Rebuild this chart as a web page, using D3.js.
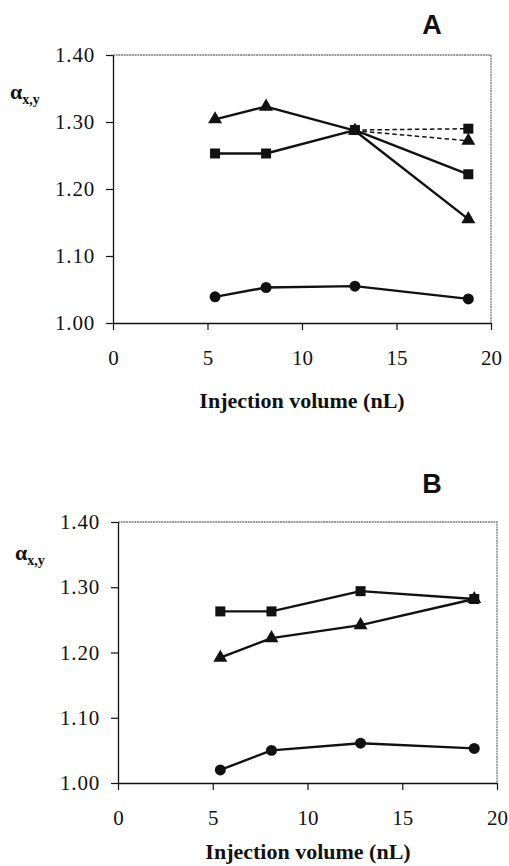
<!DOCTYPE html>
<html>
<head>
<meta charset="utf-8">
<script src="https://cdn.jsdelivr.net/npm/d3@7"></script>
<style>
  body { margin: 0; background: #fff; }
  svg { display: block; }
  .serif { font-family: 'Times New Roman', 'Liberation Serif', 'DejaVu Serif', serif; }
</style>
</head>
<body>
<div id="chart"></div>
<script>
// injection volumes (nL)
const volumes = [5.4, 8.1, 12.8, 18.8];
const dashVolumes = [12.8, 18.8];

// panel A
const aTriangle = [1.304, 1.323, 1.287, 1.155];
const aSquare = [1.253, 1.253, 1.288, 1.222];
const aCircle = [1.039, 1.053, 1.055, 1.036];
const aTriangleDash = [1.287, 1.272];
const aSquareDash = [1.288, 1.290];

// panel B
const bSquare = [1.263, 1.263, 1.294, 1.282];
const bTriangle = [1.192, 1.222, 1.242, 1.282];
const bCircle = [1.020, 1.050, 1.061, 1.053];

const xTicks = [0, 5, 10, 15, 20];
const yTicks = [1.00, 1.10, 1.20, 1.30, 1.40];

const W = 509, H = 866;

const svg = d3.select('#chart')
  .append('svg')
  .attr('width', W)
  .attr('height', H);

function drawPanel(opts) {
  let
    x = d3.scaleLinear().domain([0, 20]).range([opts.left, opts.right]),
    y = d3.scaleLinear().domain([1.0, 1.4]).range([opts.bottom, opts.top]),
    g = svg.append('g');

  // frame (top / right)
  g.append('path')
    .attr('d', 'M' + opts.left + ',' + opts.top + 'H' + opts.right + 'V' + opts.bottom)
    .attr('fill', 'none')
    .attr('stroke', '#777')
    .attr('stroke-width', 1.3)
    .attr('stroke-dasharray', '2,0.7');

  // y axis
  let yAxis = g.append('g')
    .attr('transform', 'translate(' + opts.left + ',0)')
    .call(d3.axisLeft(y).tickValues(yTicks).tickFormat(d3.format('.2f')).tickSize(7).tickSizeOuter(0).tickPadding(11));

  // x axis
  let xAxis = g.append('g')
    .attr('transform', 'translate(0,' + opts.bottom + ')')
    .call(d3.axisBottom(x).tickValues(xTicks).tickSize(7).tickSizeOuter(0).tickPadding(20));

  [yAxis, xAxis].forEach(function (a) {
    a.attr('font-family', null).attr('font-size', null);
    a.select('.domain').attr('stroke', '#111').attr('stroke-width', 1.3);
    a.selectAll('.tick line').attr('stroke', '#111').attr('stroke-width', 1.2);
    a.selectAll('.tick text')
      .attr('class', 'serif')
      .attr('fill', '#111')
      .style('font-size', '21px');
  });
  yAxis.selectAll('.tick text').style('letter-spacing', '0.8px');

  let line = d3.line()
    .x(function (d) { return x(d[0]); })
    .y(function (d) { return y(d[1]); });

  // dashed series
  (opts.dashed || []).forEach(function (s) {
    g.append('path')
      .datum(d3.zip(dashVolumes, s.values))
      .attr('fill', 'none')
      .attr('stroke', '#111')
      .attr('stroke-width', 1.5)
      .attr('stroke-dasharray', '4.5,3')
      .attr('d', line);
  });

  // solid series
  opts.series.forEach(function (s) {
    g.append('path')
      .datum(d3.zip(volumes, s.values))
      .attr('fill', 'none')
      .attr('stroke', '#111')
      .attr('stroke-width', 2.4)
      .attr('stroke-linejoin', 'round')
      .attr('d', line);
  });

  // markers
  let all = opts.series.map(function (s) { return { shape: s.shape, pts: d3.zip(volumes, s.values) }; })
    .concat((opts.dashed || []).map(function (s) { return { shape: s.shape, pts: d3.zip(dashVolumes, s.values).slice(1) }; }));

  all.forEach(function (s) {
    let sym = d3.symbol().type(s.shape === 'square' ? d3.symbolSquare : s.shape === 'triangle' ? d3.symbolTriangle : d3.symbolCircle)
      .size(s.shape === 'square' ? 100 : s.shape === 'triangle' ? 85 : 95);
    g.selectAll(null)
      .data(s.pts)
      .enter().append('path')
      .attr('d', sym)
      .attr('fill', '#111')
      .attr('transform', function (d) { return 'translate(' + x(d[0]) + ',' + y(d[1]) + ')'; });
  });

  // axis title
  g.append('text')
    .attr('class', 'serif')
    .attr('x', opts.titleX)
    .attr('y', opts.titleY)
    .attr('text-anchor', 'middle')
    .attr('fill', '#111')
    .style('font-weight', 'bold')
    .style('font-size', '22px')
    .text('Injection volume (nL)');

  // y label
  let yl = g.append('text')
    .attr('class', 'serif')
    .attr('x', opts.alphaX)
    .attr('y', opts.alphaY)
    .attr('fill', '#111')
    .style('font-weight', 'bold');
  yl.append('tspan').style('font-size', '22px').text('α');
  yl.append('tspan').style('font-size', '14px').attr('dy', 5).text('x,y');

  // panel letter
  g.append('text')
    .attr('x', opts.letterX)
    .attr('y', opts.letterY)
    .attr('text-anchor', 'middle')
    .style('font-family', "'Liberation Sans', Arial, sans-serif")
    .style('font-weight', 'bold')
    .style('font-size', '27px')
    .attr('fill', '#111')
    .text(opts.letter);
}

drawPanel({
  left: 113, right: 491, top: 55, bottom: 323,
  series: [
    { shape: 'triangle', values: aTriangle },
    { shape: 'square', values: aSquare },
    { shape: 'circle', values: aCircle }
  ],
  dashed: [
    { shape: 'triangle', values: aTriangleDash },
    { shape: 'square', values: aSquareDash }
  ],
  titleX: 302, titleY: 408,
  alphaX: 10, alphaY: 99,
  letterX: 432, letterY: 34, letter: 'A'
});

drawPanel({
  left: 118, right: 497, top: 522, bottom: 783,
  series: [
    { shape: 'square', values: bSquare },
    { shape: 'triangle', values: bTriangle },
    { shape: 'circle', values: bCircle }
  ],
  titleX: 308, titleY: 859,
  alphaX: 15, alphaY: 560,
  letterX: 432, letterY: 493, letter: 'B'
});
</script>
</body>
</html>
